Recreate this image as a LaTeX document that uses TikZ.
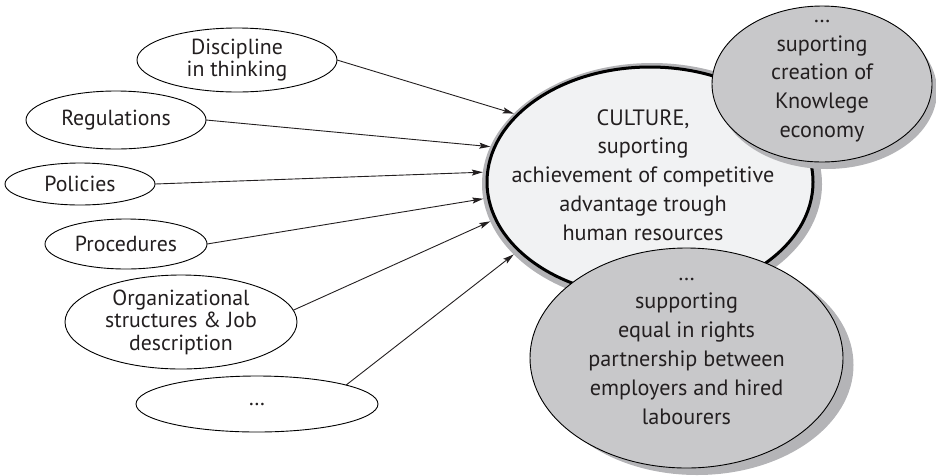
\documentclass[tikz,border=0pt]{standalone}
\usepackage{fontspec}
\setmainfont{PT Sans}
\usetikzlibrary{shapes.geometric,arrows.meta}
\definecolor{txt}{HTML}{231F20}
\definecolor{mainfill}{HTML}{F1F2F3}
\definecolor{grayfill}{HTML}{C8C8CA}
\definecolor{ringgray}{HTML}{B2B2B5}
\definecolor{shadowgray}{HTML}{B4B4B7}
\begin{document}
\begin{tikzpicture}[x=1pt,y=-1pt,
  ell/.style={ellipse, inner sep=0pt, outer sep=0pt},
  small/.style={ell, draw=black, line width=0.9pt, fill=white},
  smalltxt/.style={text=txt, align=center, font=\fontsize{21.8}{22.5}\selectfont},
  bigtxt/.style={text=txt, align=center, font=\fontsize{22.2}{28.8}\selectfont},
  grayell/.style={ell, draw=black, line width=0.9pt, fill=grayfill},
  shadow/.style={ell, fill=shadowgray},
  conn/.style={line width=0.9pt, draw=txt, -{Stealth[length=11pt,width=6pt,inset=2pt]}}
]
\useasboundingbox (0,0) rectangle (936,475);
% main ellipse with gray ring
\node[ell, fill=ringgray, minimum width=340pt, minimum height=242pt] (ring) at (652,184) {};
\node[ell, fill=mainfill, draw=black, line width=3pt, minimum width=326pt, minimum height=230pt,
  label={[bigtxt, xshift=-7pt, yshift=7pt]center:{CULTURE,\\suporting\\achievement of competitive\\advantage trough\\human resources}}] (main) at (650,182) {};
% top right
\node[shadow, minimum width=220pt, minimum height=156pt] (trshadow) at (827,91) {};
\node[grayell, minimum width=220pt, minimum height=156pt,
  label={[bigtxt, yshift=3pt]center:{\dots\\suporting\\creation of\\Knowlege\\economy}}] (know) at (822,84) {};
% bottom
\node[shadow, minimum width=313pt, minimum height=220pt] (bshadow) at (697,365) {};
\node[grayell, minimum width=313pt, minimum height=220pt,
  label={[bigtxt, yshift=7pt]center:{\dots\\supporting\\equal in rights\\partnership between\\employers and hired\\labourers}}] (equal) at (686.5,358) {};
% small ellipses
\node[small, minimum width=200pt, minimum height=64pt, label={[smalltxt]center:{Discipline\\in thinking}}] (disc) at (237,60) {};
\node[small, minimum width=180pt, minimum height=58pt, label={[smalltxt]center:Regulations}] (reg) at (116,120) {};
\node[small, minimum width=150pt, minimum height=42pt, label={[smalltxt]center:Policies}] (pol) at (80,184) {};
\node[small, minimum width=162pt, minimum height=50pt, label={[smalltxt]center:Procedures}] (proc) at (126,244) {};
\node[small, minimum width=232pt, minimum height=94pt, label={[smalltxt]center:{Organizational\\structures \& Job\\description}}] (org) at (181,322) {};
\node[small, minimum width=242pt, minimum height=56pt, label={[smalltxt]center:\dots}] (more) at (257,404) {};
% connectors
\draw[conn] (disc.east) -- (ring.153);
\draw[conn] (reg.east) -- (ring.167);
\draw[conn] (pol.east) -- (ring.176);
\draw[conn] (proc.east) -- (ring.185);
\draw[conn] (org.6) -- (ring.193);
\draw[conn] (more.12) -- (ring.207);
\end{tikzpicture}
\end{document}
